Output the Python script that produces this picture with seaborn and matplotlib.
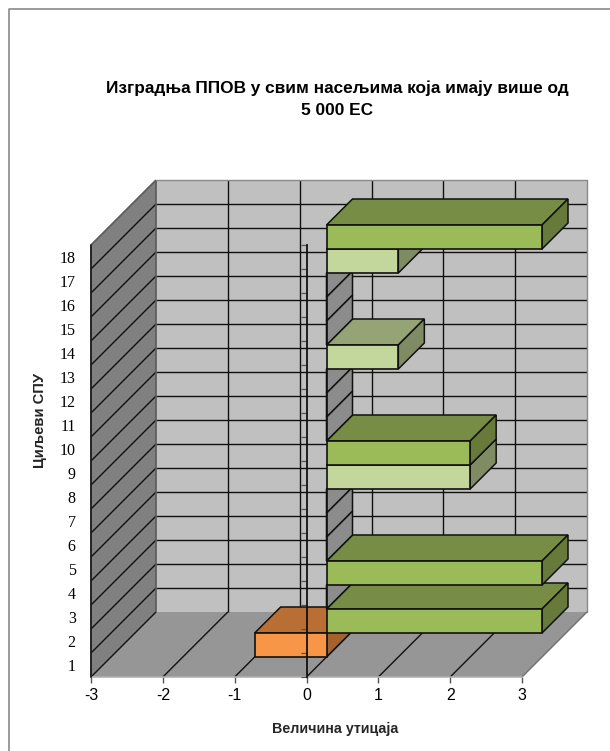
import numpy as np
import pandas as pd
import matplotlib
matplotlib.use('Agg')
import matplotlib.pyplot as plt
import seaborn as sns
from matplotlib.patches import Polygon

# values
goals = [str(i) for i in range(1, 19)]
impact = [-1, 3, 0, 3, 0, 0, 0, 2, 2, 0, 0, 0, 1, 0, 0, 0, 1, 3]
kinds = ['neg', 'strong', 'none', 'strong', 'none', 'none', 'none', 'weak', 'strong',
         'none', 'none', 'none', 'weak', 'none', 'none', 'none', 'weak', 'strong']
x_ticks = [-3, -2, -1, 0, 1, 2, 3]

title = 'Изградња ППОВ у свим насељима која имају више од\n5 000 ЕС'
x_label = 'Величина утицаја'
y_label = 'Циљеви СПУ'

FRONT = {'neg': '#F79646', 'strong': '#9BBB59', 'weak': '#C3D69B', 'none': '#8C8C8C'}
TOP = {'neg': '#B96F33', 'strong': '#778C44', 'weak': '#94A474', 'none': '#8C8C8C'}
SIDE = {'neg': '#A5622D', 'strong': '#677A3A', 'weak': '#7F8C63', 'none': '#8C8C8C'}

W, H = 610, 751
# front plane of the chart box, in pixels
LEFT, RIGHT, BOTTOM, TOP_PX = 91, 522, 677, 245
DEPTH = 65       # full depth of the box
BAR_START = 20   # where the bars start inside the box
BAR_DEPTH = 26

sns.set_theme(style='white')
plt.rcParams['font.family'] = ['Liberation Sans', 'DejaVu Sans']

df = pd.DataFrame({'goal': goals, 'impact': impact, 'kind': kinds})

fig = plt.figure(figsize=(W / 100, H / 100), dpi=100, facecolor='white')


def axes_at(dx, dy, z):
    return fig.add_axes([(LEFT + dx) / W, (H - BOTTOM + dy) / H,
                         (RIGHT - LEFT) / W, (BOTTOM - TOP_PX) / H], zorder=z)


# chart frame, only the left and top edges are inside the picture
fig.add_artist(plt.Line2D([8.5 / W, 8.5 / W, 1], [0, 1 - 9 / H, 1 - 9 / H], transform=fig.transFigure,
                          color='#808080', lw=1.1))

# ---- box: back wall, left wall, floor
ax = axes_at(0, 0, 1)
ax.set_xlim(-3, 3)
ax.set_ylim(0, 18)
ax.patch.set_visible(False)
ux = (RIGHT - LEFT) / 6
uy = (BOTTOM - TOP_PX) / 18
ddx, ddy = DEPTH / ux, DEPTH / uy


def add_poly(a, pts, fc, ec='none', lw=0.0, z=1):
    a.add_patch(Polygon(pts, closed=True, fc=fc, ec=ec, lw=lw, clip_on=False, zorder=z, joinstyle='miter'))


add_poly(ax, [(-3 + ddx, ddy), (3 + ddx, ddy), (3 + ddx, 18 + ddy), (-3 + ddx, 18 + ddy)], '#C0C0C0')
add_poly(ax, [(-3, 0), (-3 + ddx, ddy), (-3 + ddx, 18 + ddy), (-3, 18)], '#808080')
add_poly(ax, [(-3, 0), (3, 0), (3 + ddx, ddy), (-3 + ddx, ddy)], '#969696')

line_kw = dict(color='#111111', lw=1.0, clip_on=False, zorder=2, solid_capstyle='butt')
edge_kw = dict(color='#5a5a5a', lw=1.2, clip_on=False, zorder=2, solid_capstyle='butt')
for k in range(1, 18):
    ax.plot([-3 + ddx, 3 + ddx], [k + ddy, k + ddy], **line_kw)
for k in range(0, 18):
    ax.plot([-3, -3 + ddx], [k, k + ddy], **line_kw)
for t in x_ticks[1:-1]:
    ax.plot([t + ddx, t + ddx], [ddy, 18 + ddy], **line_kw)
for t in x_ticks[1:-1]:
    ax.plot([t, t + ddx], [0, ddy], **line_kw)
ax.plot([-3, -3], [0, 18], color='#222222', lw=1.4, clip_on=False, zorder=3)
ax.plot([-3, -3 + ddx], [18, 18 + ddy], **edge_kw)
ax.plot([-3 + ddx, -3 + ddx], [ddy, 18 + ddy], **edge_kw)
ax.plot([-3 + ddx, 3 + ddx], [18 + ddy, 18 + ddy], color='#8a8a8a', lw=1.0, clip_on=False, zorder=2)
ax.plot([3 + ddx, 3 + ddx], [ddy, 18 + ddy], color='#8a8a8a', lw=1.0, clip_on=False, zorder=2)
ax.plot([3, 3 + ddx], [0, ddy], color='#707070', lw=1.0, clip_on=False, zorder=2)

sns.despine(ax=ax, top=True, right=True, left=True, bottom=False)
ax.spines['bottom'].set_color('#b0b0b0')
ax.spines['bottom'].set_linewidth(1.2)
ax.set_xticks(x_ticks)
ax.set_xticklabels([str(t) for t in x_ticks], fontsize=11.5, color='black')
ax.tick_params(axis='x', length=4, width=1, color='#555555', pad=4, bottom=True)
ax.set_yticks(np.arange(18) + 0.5)
ax.set_yticklabels(goals, fontsize=11.5, family='Liberation Serif', color='black', ha='right')
ax.tick_params(axis='y', length=0, pad=11)
fig.text(335 / W, 1 - 729 / H, x_label, ha='center', va='center', fontsize=10.3, fontweight='bold')
fig.text(40 / W, 1 - 420 / H, y_label, ha='center', va='center', rotation=90, fontsize=10.6, fontweight='bold')
fig.text(337 / W, 1 - 99 / H, title, ha='center', va='center', fontsize=12.4, fontweight='bold',
         linespacing=1.6, color='black')

# ---- bars: front faces from seaborn, top and side extruded from them
ax_bars = axes_at(BAR_START, BAR_START, 2)
sns.barplot(data=df, x='impact', y='goal', order=goals[::-1], hue='kind', palette=FRONT,
            dodge=False, width=1, legend=False, saturation=1, ax=ax_bars,
            edgecolor='#111111', linewidth=1.2)
ax_bars.set_xlim(-3, 3)
ax_bars.set_ylim(17.5, -0.5)
ax_bars.axis('off')

bdx, bdy = BAR_DEPTH / ux, BAR_DEPTH / uy  # y axis of the bar layer runs downwards
fronts = {}
for p in ax_bars.patches:
    if p.get_height() > 0:
        fronts[round(p.get_y() + p.get_height() / 2)] = p

for pos, p in fronts.items():
    rank = 18 - pos
    kind = kinds[rank - 1]
    x0, x1 = sorted([p.get_x(), p.get_x() + p.get_width()])
    y0, y1 = p.get_y(), p.get_y() + p.get_height()  # y0 is the upper edge on screen
    z = 2 + rank * 3
    p.set_zorder(z + 2)
    p.set_clip_on(False)
    if kind != 'none':
        add_poly(ax_bars, [(x0, y0), (x1, y0), (x1 + bdx, y0 - bdy), (x0 + bdx, y0 - bdy)],
                 TOP[kind], '#111111', 1.1, z)
    add_poly(ax_bars, [(x1, y0), (x1, y1), (x1 + bdx, y1 - bdy), (x1 + bdx, y0 - bdy)],
             SIDE[kind], '#111111', 1.1, z + 1)

# ---- category axis sits on top of the bars at zero
ax_axis = axes_at(0, 0, 3)
ax_axis.set_xlim(-3, 3)
ax_axis.set_ylim(0, 18)
ax_axis.patch.set_visible(False)
ax_axis.set_xticks([])
for s in ['top', 'right', 'bottom']:
    ax_axis.spines[s].set_visible(False)
ax_axis.spines['left'].set_position(('data', 0))
ax_axis.spines['left'].set_color('#111111')
ax_axis.spines['left'].set_linewidth(1.3)
ax_axis.set_yticks(np.arange(0, 19))
ax_axis.set_yticklabels([])
ax_axis.tick_params(axis='y', length=4.3, width=0.9, color='#555555', left=True)

fig.savefig('out.png', dpi=100)
